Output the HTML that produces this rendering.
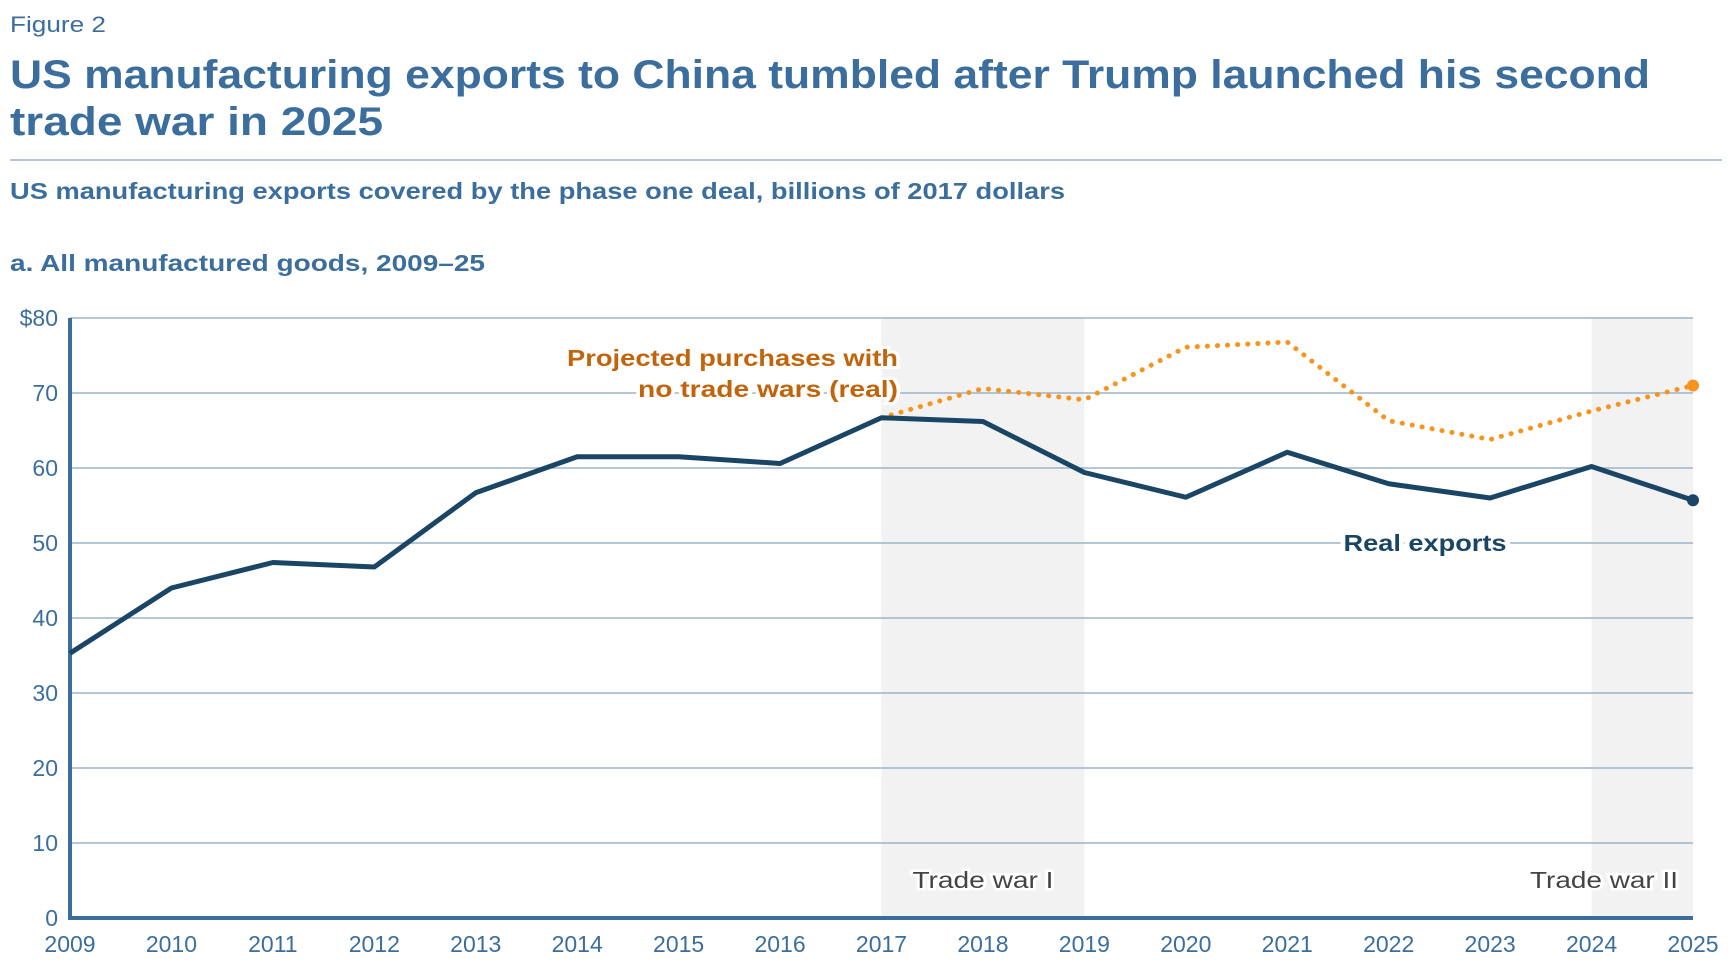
<!DOCTYPE html>
<html><head><meta charset="utf-8"><style>
body{margin:0;width:1732px;height:970px;background:#fff;font-family:"Liberation Sans",sans-serif;overflow:hidden}
</style></head><body>
<svg width="1732" height="970" xmlns="http://www.w3.org/2000/svg" style="font-family:'Liberation Sans',sans-serif">
<text x="10" y="32" font-size="22" fill="#3b6e9c" textLength="96" lengthAdjust="spacingAndGlyphs">Figure 2</text>
<text x="10" y="88" font-size="40" font-weight="bold" fill="#3b6e9c" textLength="1640" lengthAdjust="spacingAndGlyphs">US manufacturing exports to China tumbled after Trump launched his second</text>
<text x="10" y="135" font-size="40" font-weight="bold" fill="#3b6e9c" textLength="373" lengthAdjust="spacingAndGlyphs">trade war in 2025</text>
<line x1="10" y1="160" x2="1722" y2="160" stroke="#9bb4cb" stroke-width="1.5"/>
<text x="10" y="199" font-size="23" font-weight="bold" fill="#3b6e9c" textLength="1055" lengthAdjust="spacingAndGlyphs">US manufacturing exports covered by the phase one deal, billions of 2017 dollars</text>
<text x="10" y="271" font-size="23" font-weight="bold" fill="#3b6e9c" textLength="475" lengthAdjust="spacingAndGlyphs">a. All manufactured goods, 2009–25</text>
<g id="plot"></g>
</svg>
<script>
const years=[2009,2010,2011,2012,2013,2014,2015,2016,2017,2018,2019,2020,2021,2022,2023,2024,2025];
const realExports=[35.3,44,47.4,46.8,56.7,61.5,61.5,60.6,66.7,66.2,59.4,56.1,62.1,57.9,56,60.2,55.7];
const projYears=[2017,2018,2019,2020,2021,2022,2023,2024,2025];
const projected=[66.7,70.6,69.1,76.1,76.8,66.3,63.8,67.6,71];
const yTicks=[0,10,20,30,40,50,60,70,80];
const tradeWars=[[2017,2019,"Trade war I"],[2024,2025,"Trade war II"]];
const NS="http://www.w3.org/2000/svg";
const X=y=>70+(y-2009)*(1693-70)/16;
const Y=v=>918-v*7.5;
const g=document.getElementById('plot');
function mk(t,a){const e=document.createElementNS(NS,t);for(const k in a)e.setAttribute(k,a[k]);g.appendChild(e);return e;}
tradeWars.forEach(w=>{
 const r=mk('rect',{x:X(w[0]),y:Y(80),width:X(w[1])-X(w[0]),height:Y(0)-Y(80),fill:'#f2f2f2'});
 
 
});
yTicks.forEach(v=>{
 if(v>0){const l=mk('line',{x1:70,x2:1693,y1:Y(v),y2:Y(v),stroke:'#9bb4cb','stroke-width':1.5});
 
 }
 const t=mk('text',{x:58,y:Y(v)+8,'text-anchor':'end','font-size':23,fill:'#3b6e9c'});
 t.textContent=(v==80?'$':'')+v;
 
 
});
years.forEach(y=>{
 const t=mk('text',{x:X(y),y:952,'text-anchor':'middle','font-size':23,fill:'#3b6e9c'});
 t.textContent=y;
 
 
});
tradeWars.forEach((w,i)=>{
 const t=mk('text',{x:i==0?(X(w[0])+X(w[1]))/2:1678,y:888,'text-anchor':i==0?'middle':'end','font-size':23,fill:'#444',stroke:'#fff','stroke-width':5,'paint-order':'stroke',textLength:i==0?141:148,lengthAdjust:'spacingAndGlyphs'});
 t.textContent=w[2];
 
 
});
const la=mk('line',{x1:70,x2:70,y1:Y(80),y2:Y(0)+2,stroke:'#3b6e9c','stroke-width':4});


const lb=mk('line',{x1:68,x2:1693,y1:Y(0),y2:Y(0),stroke:'#3b6e9c','stroke-width':4});


const pp=mk('polyline',{points:projYears.map((y,i)=>X(y)+','+Y(projected[i])).join(' '),fill:'none',stroke:'#f7941d','stroke-width':5,'stroke-dasharray':'0.1 10','stroke-linecap':'round'});


const rp=mk('polyline',{points:years.map((y,i)=>X(y)+','+Y(realExports[i])).join(' '),fill:'none',stroke:'#1b4565','stroke-width':5,'stroke-linejoin':'round'});


const c1=mk('circle',{cx:X(2025),cy:Y(projected[projected.length-1]),r:6,fill:'#f7941d'});


const c2=mk('circle',{cx:X(2025),cy:Y(realExports[realExports.length-1]),r:6,fill:'#1b4565'});


[["Projected purchases with",366,331],["no trade wars (real)",397,260]].forEach(a=>{
 const t=mk('text',{x:898,y:a[1],'text-anchor':'end','font-size':23,'font-weight':'bold',fill:'#c0650b',stroke:'#fff','stroke-width':6,'paint-order':'stroke',textLength:a[2],lengthAdjust:'spacingAndGlyphs'});
 t.textContent=a[0];
 
 
});
const rl=mk('text',{x:1425,y:551,'text-anchor':'middle','font-size':23,'font-weight':'bold',fill:'#1b4565',stroke:'#fff','stroke-width':8,'paint-order':'stroke',textLength:163,lengthAdjust:'spacingAndGlyphs'});
rl.textContent='Real exports';


</script>
</body></html>
